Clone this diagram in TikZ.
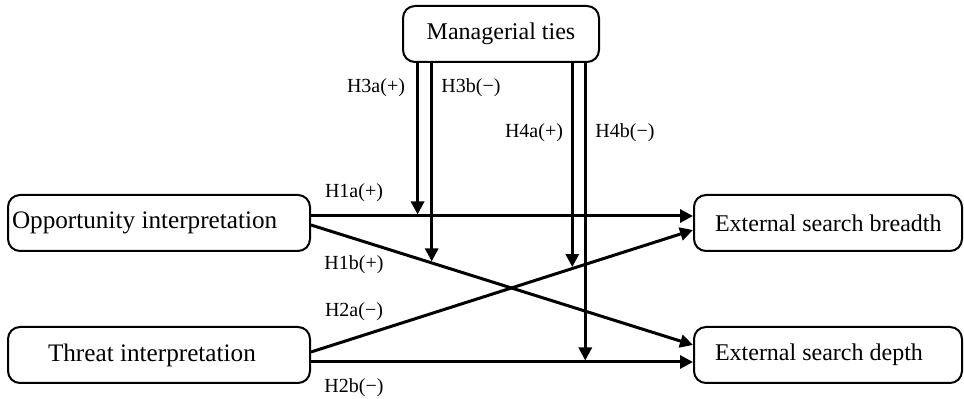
\documentclass[tikz,border=0pt]{standalone}
\usepackage{fontspec}
\setmainfont{Liberation Serif}
\usetikzlibrary{arrows.meta}
\tikzstyle{factor} = [rectangle, rounded corners=6pt, text centered, draw=black, line width=1pt, minimum height=28pt, font=\fontsize{12}{14}\selectfont]
\tikzstyle{hyp} = [inner sep=0pt, font=\fontsize{10}{12}\selectfont]
\tikzstyle{arrow} = [line width=1.5pt, -{Triangle[length=6.5pt,width=6.5pt]}]

\begin{document}
\begin{tikzpicture}[x=0.5pt, y=-0.5pt]
\useasboundingbox (0,0) rectangle (964,399);

\node (ties) [factor, minimum width=98pt] at (501,34) {Managerial ties};
\node (opp) [factor, inner xsep=2pt, font=\fontsize{12.6}{14}\selectfont] at (159,223) {\makebox[147pt][l]{Opportunity interpretation}};
\node (threat) [factor, inner xsep=20pt, font=\fontsize{12.6}{14}\selectfont] at (159,355) {\makebox[111pt][l]{Threat interpretation}};
\node (breadth) [factor, inner xsep=10.5pt] at (828,223) {\makebox[113pt][l]{External search breadth}};
\node (depth) [factor, inner xsep=10.5pt] at (828,355) {\makebox[113pt][l]{External search depth}};

\node (h1a) [hyp] at (354,193) {H1a(+)};
\node (h1b) [hyp] at (354,265) {H1b(+)};
\node (h2a) [hyp] at (354,312) {H2a(−)};
\node (h2b) [hyp] at (354,388) {H2b(−)};
\node (h3a) [hyp] at (376,88) {H3a(+)};
\node (h3b) [hyp] at (471,88) {H3b(−)};
\node (h4a) [hyp] at (534,133) {H4a(+)};
\node (h4b) [hyp] at (625,133) {H4b(−)};

\draw [arrow] ([yshift=3.5pt]opp.east) --coordinate[pos=0.279](m1) ([yshift=3.5pt]breadth.west);
\draw [arrow] ([yshift=-1pt]opp.east) --coordinate[pos=0.316](m2) ([yshift=5pt]depth.west);
\draw [arrow] ([yshift=1.5pt]threat.east) --coordinate[pos=0.684](m3) ([yshift=-3.5pt]breadth.west);
\draw [arrow] ([yshift=-3.5pt]threat.east) --coordinate[pos=0.718](m4) ([yshift=-3.5pt]depth.west);
\draw [arrow, shorten >=0.75pt] (ties.south -| m1) -- (m1);
\draw [arrow, shorten >=0.75pt] (ties.south -| m2) -- (m2);
\draw [arrow, shorten >=0.75pt] (ties.south -| m3) -- (m3);
\draw [arrow, shorten >=0.75pt] (ties.south -| m4) -- (m4);

\end{tikzpicture}
\end{document}
